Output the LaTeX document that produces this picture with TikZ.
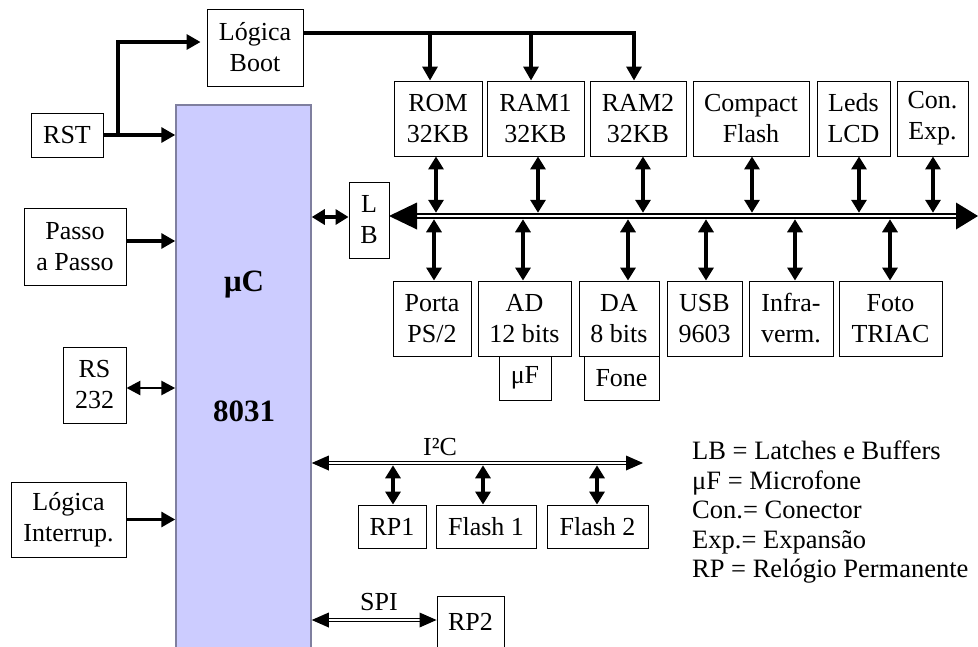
\documentclass[tikz,border=0pt]{standalone}
\usepackage{fontspec}
\setmainfont{Liberation Serif}
\usetikzlibrary{arrows.meta,calc}
\definecolor{ucfill}{HTML}{CCCCFF}
\definecolor{ucedge}{HTML}{7F7F9F}
\begin{document}
\begin{tikzpicture}[x=1pt,y=-1pt,
  box/.style={draw=black, line width=0.9pt, inner sep=0pt, align=center, font=\fontsize{26}{31}\selectfont},
  lbl/.style={inner sep=0pt, font=\fontsize{26}{31}\selectfont},
  leg/.style={inner sep=0pt, font=\fontsize{26.5}{31}\selectfont, anchor=base west},
  big/.style={inner sep=0pt, font=\bfseries\fontsize{31}{36}\selectfont},
  arr/.style={line width=3.2pt, -{Triangle[length=14pt,width=15pt]}},
  conn/.style={line width=3.5pt, {Triangle[length=13pt,width=15pt]}-{Triangle[length=13pt,width=15pt]}},
  connthin/.style={line width=2.8pt, {Triangle[length=14pt,width=14pt]}-{Triangle[length=14pt,width=14pt]}},
  bigbus/.style={draw=black, line width=2pt, double=white, double distance=2.5pt},
  smallbus/.style={draw=black, line width=1.3pt, double=white, double distance=2pt},
]
\useasboundingbox (0,0) rectangle (978,646);
\clip (0,0) rectangle (978,646);

% microcontroller
\node[draw=ucedge, fill=ucfill, line width=1.5pt, inner sep=0pt, minimum width=135pt, minimum height=560pt] (uc) at (243.5,385) {};
\node[big] (ucname) at (244,285) {μC};
\node[big] (ucnum) at (244,411) {8031};

% left column
\node[box, minimum width=96pt, minimum height=77pt] (boot) at (255,47.5) {Lógica\\Boot};
\node[box, minimum width=72pt, minimum height=44pt] (rst) at (67,135) {RST};
\node[box, minimum width=102pt, minimum height=77pt] (passo) at (75,246.5) {Passo\\a Passo};
\node[box, minimum width=63pt, minimum height=76pt] (rs) at (94.5,385) {RS\\232};
\node[box, minimum width=115pt, minimum height=75pt] (intr) at (68.5,519.5) {Lógica\\Interrup.};
\node[box, minimum width=40pt, minimum height=76pt] (lb) at (369,220) {L\\B};

% top row
\node[box, minimum width=88pt, minimum height=75pt] (rom) at (438,118.5) {ROM\\32KB};
\node[box, minimum width=97pt, minimum height=75pt] (ram1) at (535.5,118.5) {RAM1\\32KB};
\node[box, minimum width=96pt, minimum height=75pt] (ram2) at (638,118.5) {RAM2\\32KB};
\node[box, minimum width=116pt, minimum height=75pt] (cf) at (751,118.5) {Compact\\Flash};
\node[box, minimum width=73pt, minimum height=75pt] (leds) at (853.5,118.5) {Leds\\LCD};
\node[box, minimum width=71pt, minimum height=75pt] (con) at (932.5,118.5) {Con.\\Exp.};

% bottom row
\node[box, minimum width=78pt, minimum height=75pt] (porta) at (432,318.5) {Porta\\PS/2};
\node[box, minimum width=93pt, minimum height=75pt] (ad) at (524.5,318.5) {AD\\12 bits};
\node[box, minimum width=80pt, minimum height=75pt] (da) at (619,318.5) {DA\\8 bits};
\node[box, minimum width=75pt, minimum height=75pt] (usb) at (704.5,318.5) {USB\\9603};
\node[box, minimum width=84pt, minimum height=75pt] (ir) at (791,318.5) {Infra-\\verm.};
\node[box, minimum width=103pt, minimum height=75pt] (foto) at (890.5,318.5) {Foto\\TRIAC};
\node[box, minimum width=52pt, minimum height=44pt] (uf) at (525,378) {μF};
\node[box, minimum width=75pt, minimum height=44pt] (fone) at (621.5,378) {Fone};

% I2C devices
\node[box, minimum width=68pt, minimum height=43pt] (rp1) at (392,526.5) {RP1};
\node[box, minimum width=100pt, minimum height=43pt] (fl1) at (486,526.5) {Flash 1};
\node[box, minimum width=101pt, minimum height=43pt] (fl2) at (597.5,526.5) {Flash 2};
\node[box, minimum width=67pt, minimum height=52pt] (rp2) at (470.5,622) {RP2};

% labels
\node[lbl] (i2clbl) at (440,447) {I²C};
\node[lbl] (spilbl) at (379,602) {SPI};
\node[leg] (leg1) at (692,459) {LB = Latches e Buffers};
\node[leg] (leg2) at (692,489) {μF = Microfone};
\node[leg] (leg3) at (692,518) {Con.= Conector};
\node[leg] (leg4) at (692,548) {Exp.= Expansão};
\node[leg] (leg5) at (692,577) {RP = Relógio Permanente};

% reset and boot
\coordinate (j) at (118,135);
\draw[arr] (rst.east) -- (rst.east -| uc.west);
\draw[arr, shorten >=6pt] (j) |- ([yshift=5.5pt]boot.west);
\coordinate (d1) at (430,33);
\coordinate (d2) at (531,33);
\coordinate (d3) at (634,33);
\draw[arr] ([yshift=14.5pt]boot.east) -| (d3 |- ram2.north);
\draw[arr] (d1) -- (d1 |- rom.north);
\draw[arr] (d2) -- (d2 |- ram1.north);

% left inputs
\draw[arr] ([yshift=5.5pt]passo.east) -- ([yshift=5.5pt]passo.east -| uc.west);
\draw[connthin] ([yshift=-3pt]rs.east) -- ([yshift=-3pt]rs.east -| uc.west);
\draw[arr] (intr.east) -- (intr.east -| uc.west);

% uC <-> LB
\draw[conn] ([yshift=3pt]lb.west) -- ([yshift=3pt]lb.west -| uc.east);

% main bus
\coordinate (busL) at (389,216);
\coordinate (busR) at (978,216);
\draw[bigbus] ([xshift=26pt]busL) -- ([xshift=-20pt]busR);
\fill (busL) -- ++(28,-13.5) -- ++(0,27) -- cycle;
\fill (busR) -- ++(-22,-13.5) -- ++(0,27) -- cycle;

% bus to top row
\coordinate (t1) at (436,212.75);
\coordinate (t2) at (538,212.75);
\coordinate (t3) at (643,212.75);
\coordinate (t4) at (752,212.75);
\coordinate (t5) at (859,212.75);
\coordinate (t6) at (933,212.75);
\draw[conn] (t1) -- (t1 |- rom.south);
\draw[conn] (t2) -- (t2 |- ram1.south);
\draw[conn] (t3) -- (t3 |- ram2.south);
\draw[conn] (t4) -- (t4 |- cf.south);
\draw[conn] (t5) -- (t5 |- leds.south);
\draw[conn] (t6) -- (t6 |- con.south);

% bus to bottom row
\coordinate (b1) at (434,219.25);
\coordinate (b2) at (523,219.25);
\coordinate (b3) at (628,219.25);
\coordinate (b4) at (706,219.25);
\coordinate (b5) at (795,219.25);
\coordinate (b6) at (890,219.25);
\draw[conn] (b1) -- (b1 |- porta.north);
\draw[conn] (b2) -- (b2 |- ad.north);
\draw[conn] (b3) -- (b3 |- da.north);
\draw[conn] (b4) -- (b4 |- usb.north);
\draw[conn] (b5) -- (b5 |- ir.north);
\draw[conn] (b6) -- (b6 |- foto.north);

% I2C bus
\path (uc.east) ++(0,78) coordinate (i2cL);
\coordinate (i2cR) at (643,463);
\draw[smallbus] ([xshift=16pt]i2cL) -- ([xshift=-16pt]i2cR);
\fill (i2cL) -- ++(17,-7.5) -- ++(0,15) -- cycle;
\fill (i2cR) -- ++(-17,-7.5) -- ++(0,15) -- cycle;
\coordinate (c1) at (393,465.3);
\coordinate (c2) at (483,465.3);
\coordinate (c3) at (597,465.3);
\draw[conn] (c1) -- (c1 |- rp1.north);
\draw[conn] (c2) -- (c2 |- fl1.north);
\draw[conn] (c3) -- (c3 |- fl2.north);

% SPI
\path (uc.east) ++(0,235) coordinate (spiL);
\coordinate (spiR) at (spiL -| rp2.west);
\draw[smallbus] ([xshift=16pt]spiL) -- ([xshift=-16pt]spiR);
\fill (spiL) -- ++(17,-7.5) -- ++(0,15) -- cycle;
\fill (spiR) -- ++(-17,-7.5) -- ++(0,15) -- cycle;
\end{tikzpicture}
\end{document}
